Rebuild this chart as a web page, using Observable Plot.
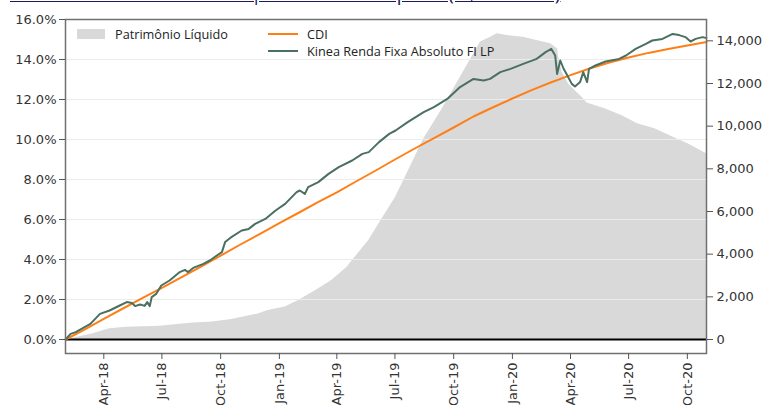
<!DOCTYPE html>
<html><head><meta charset="utf-8">
<script src="https://cdn.jsdelivr.net/npm/d3@7"></script>
<script src="https://cdn.jsdelivr.net/npm/@observablehq/plot@0.6"></script>
<style>
body{margin:0;background:#fff;}
#wrap{position:relative;width:763px;height:405px;overflow:hidden;background:#fff;}
#title{position:absolute;left:10px;top:-17px;font:19.8px "Open Sans",sans-serif;line-height:20px;color:#1b1b5a;text-decoration:underline;white-space:nowrap;}
.lg{position:absolute;font:12.7px "Open Sans",sans-serif;line-height:14px;color:#222;white-space:nowrap;}
.sw{position:absolute;}
</style></head><body>
<div id="wrap">
<div id="title">Rentabilidade Acumulada | Patrimônio Líquido (R$ Milhões)</div>
</div>
<script>
// ---- data ----
const seriesNames = ["Patrimônio Líquido", "CDI", "Kinea Renda Fixa Absoluto FI LP"];

const cdiDates = ["2018-01-31","2018-03-01","2018-04-01","2018-05-01","2018-06-01","2018-07-01","2018-08-01","2018-09-01","2018-10-01","2018-11-01","2018-12-01",
  "2019-01-01","2019-02-01","2019-03-01","2019-04-01","2019-05-01","2019-06-01","2019-07-01","2019-08-01","2019-09-01","2019-10-01","2019-11-01","2019-12-01",
  "2020-01-01","2020-02-01","2020-03-01","2020-04-01","2020-05-01","2020-06-01","2020-07-01","2020-08-01","2020-09-01","2020-10-01","2020-10-31"];
const cdiValues = [0.0,0.48,1.03,1.55,2.08,2.58,3.12,3.66,4.19,4.75,5.27,
  5.82,6.35,6.84,7.36,7.90,8.45,9.00,9.55,10.08,10.60,11.15,11.60,
  12.05,12.48,12.85,13.22,13.55,13.85,14.10,14.33,14.53,14.70,14.88];

const kineaDates = ["2018-01-31","2018-02-08","2018-02-16","2018-03-11","2018-03-26","2018-04-10","2018-04-26","2018-05-07","2018-05-15","2018-05-20","2018-05-28",
  "2018-06-04","2018-06-08","2018-06-12","2018-06-15","2018-06-22","2018-06-30","2018-07-13","2018-07-29","2018-08-06","2018-08-11","2018-08-19",
  "2018-09-04","2018-09-14","2018-09-25","2018-10-03","2018-10-08","2018-10-16","2018-11-03","2018-11-14","2018-11-24","2018-12-10","2018-12-26",
  "2019-01-10","2019-01-28","2019-02-02","2019-02-10","2019-02-15","2019-03-03","2019-03-19","2019-04-04","2019-04-25","2019-05-11","2019-05-21",
  "2019-06-06","2019-06-22","2019-07-02","2019-07-21","2019-08-15","2019-08-31","2019-09-21","2019-10-11","2019-11-01","2019-11-17","2019-11-27",
  "2019-12-13","2019-12-29","2020-01-18","2020-02-08","2020-02-22","2020-03-02","2020-03-08","2020-03-11","2020-03-16","2020-03-21","2020-03-27",
  "2020-04-03","2020-04-08","2020-04-16","2020-04-21","2020-04-27","2020-04-30","2020-05-10","2020-05-26","2020-06-16","2020-06-27","2020-07-12",
  "2020-07-28","2020-08-07","2020-08-23","2020-09-08","2020-09-18","2020-09-28","2020-10-06","2020-10-14","2020-10-25","2020-10-31"];
const kineaValues = [0.0,0.28,0.37,0.78,1.28,1.45,1.70,1.87,1.82,1.67,1.75,
  1.68,1.87,1.67,2.12,2.28,2.70,2.95,3.37,3.48,3.37,3.58,
  3.78,3.95,4.20,4.37,4.87,5.08,5.45,5.53,5.78,6.03,6.45,
  6.78,7.37,7.45,7.28,7.62,7.87,8.28,8.62,8.95,9.28,9.37,
  9.87,10.28,10.45,10.87,11.37,11.62,12.03,12.62,13.03,12.95,13.03,
  13.37,13.53,13.78,14.03,14.37,14.53,14.20,13.28,13.95,13.55,13.20,
  12.78,12.65,12.87,13.37,12.87,13.53,13.70,13.90,14.03,14.20,14.53,
  14.78,14.95,15.03,15.28,15.22,15.12,14.90,15.03,15.12,15.07];

const plDates = ["2018-01-31","2018-02-08","2018-03-15","2018-04-10","2018-05-07","2018-06-28","2018-07-25","2018-08-19","2018-09-14","2018-10-16","2018-11-29","2018-12-14",
  "2019-01-10","2019-01-31","2019-02-27","2019-03-24","2019-04-17","2019-05-04","2019-05-21","2019-06-06","2019-06-22","2019-07-02","2019-07-21","2019-08-15",
  "2019-09-10","2019-10-07","2019-10-28","2019-11-12","2019-11-28","2019-12-08","2019-12-24","2020-01-18","2020-02-08","2020-03-01","2020-03-12","2020-03-13",
  "2020-03-19","2020-03-29","2020-04-08","2020-04-19","2020-04-27","2020-05-26","2020-06-20","2020-07-15","2020-08-11","2020-09-08","2020-10-02","2020-10-31"];
const plValues = [0,30,270,500,580,620,700,770,810,920,1200,1360,
  1520,1830,2300,2770,3390,4020,4640,5420,6190,6670,7840,9400,
  10650,12060,13160,13940,14170,14330,14250,14170,14020,13860,13620,13310,
  12530,11980,11670,11360,11090,10810,10500,10110,9880,9490,9180,8710];

const leftTicks = [0,2,4,6,8,10,12,14,16];
const rightTicks = [0,2000,4000,6000,8000,10000,12000,14000];
const xTickDates = ["2018-04-01","2018-07-01","2018-10-01","2019-01-01","2019-04-01","2019-07-01","2019-10-01","2020-01-01","2020-04-01","2020-07-01","2020-10-01"];

// ---- build ----
const P = s => new Date(s + "T00:00:00Z");
const cdi = cdiDates.map((d,i)=>({date:P(d), v:cdiValues[i]}));
const kinea = kineaDates.map((d,i)=>({date:P(d), v:kineaValues[i]}));
const pl = plDates.map((d,i)=>({date:P(d), v:plValues[i]}));
const Y_MAX = 16, PL_MAX = 15000;
const toY = v => v * Y_MAX / PL_MAX;
const fmtMon = d3.utcFormat("%b-%y");

const chart = Plot.plot({
  width: 763, height: 405,
  marginLeft: 65, marginRight: 57, marginTop: 19, marginBottom: 52,
  style: {fontFamily: "DejaVu Sans, sans-serif", fontSize: "13px", color: "#333", background: "transparent", overflow: "visible"},
  x: {type: "utc", domain: [P("2018-01-31"), P("2020-10-31")]},
  y: {domain: [-0.7, 16]},
  marks: [
    Plot.areaY(pl, {x: "date", y: d => toY(d.v), fill: "#d9d9d9", curve: "linear"}),
    Plot.gridY(leftTicks, {stroke: "#ececec", strokeOpacity: 1, strokeWidth: 1.2}),
    Plot.ruleY([0], {stroke: "#000", strokeWidth: 1.8}),
    Plot.lineY(cdi, {x: "date", y: "v", stroke: "#ff7f17", strokeWidth: 2}),
    Plot.lineY(kinea, {x: "date", y: "v", stroke: "#4a7060", strokeWidth: 2}),
    Plot.frame({stroke: "#707070", strokeWidth: 1.5}),
    Plot.axisY(leftTicks, {anchor: "left", tickSize: 6, tickPadding: 3, tickFormat: d => d.toFixed(1) + "%", label: null, stroke: "#555"}),
    Plot.axisY(rightTicks.map(toY), {anchor: "right", tickSize: 6, tickPadding: 4, tickFormat: v => d3.format(",")(Math.round(v * PL_MAX / Y_MAX)), label: null, stroke: "#555"}),
    Plot.axisX(xTickDates.map(P), {anchor: "bottom", tickSize: 6, tickPadding: 3, tickRotate: -90, tickFormat: fmtMon, label: null, stroke: "#555"})
  ]
});
chart.style.position = "absolute";
chart.style.left = "0px";
chart.style.top = "0px";
const wrap = document.getElementById("wrap");
wrap.insertBefore(chart, wrap.firstChild);

// legend (HTML overlay)
const add = (cls, css, text) => { const e = document.createElement("div"); e.className = cls; Object.assign(e.style, css); if (text) e.textContent = text; wrap.appendChild(e); };
add("sw", {left: "77px", top: "29px", width: "28px", height: "10px", background: "#d9d9d9"});
add("lg", {left: "115px", top: "27px"}, seriesNames[0]);
add("sw", {left: "268px", top: "33px", width: "30px", height: "2px", background: "#ff7f17"});
add("lg", {left: "307px", top: "27px"}, seriesNames[1]);
add("sw", {left: "268px", top: "50px", width: "30px", height: "2px", background: "#4a7060"});
add("lg", {left: "307px", top: "44px"}, seriesNames[2]);
</script>
</body></html>
